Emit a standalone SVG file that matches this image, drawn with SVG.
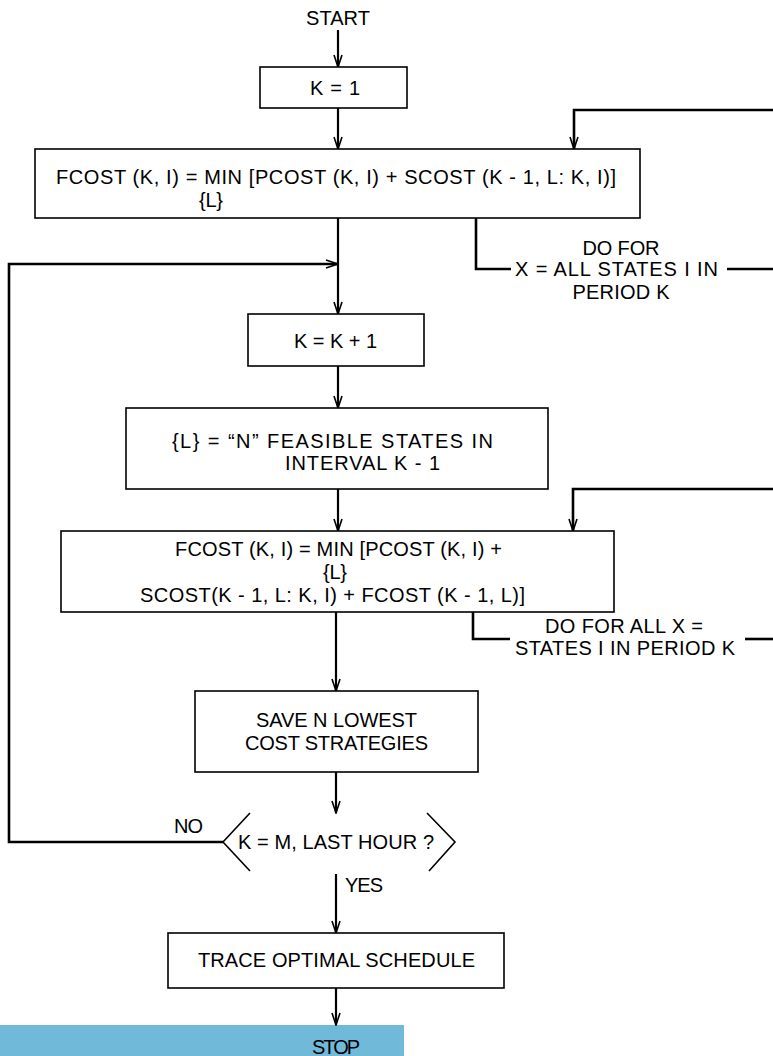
<svg xmlns="http://www.w3.org/2000/svg" width="773" height="1056" viewBox="0 0 773 1056">
<style>
.box{fill:#fff;stroke:#000;stroke-width:1.6}
.t{font-family:"Liberation Sans",Arial,sans-serif;font-size:20px;fill:#000}
.c{stroke:#000;stroke-width:2.2;fill:none}
.cl{stroke:#000;stroke-width:2.6;fill:none}
</style>
<defs>
<marker id="ah" markerWidth="14" markerHeight="10" refX="13" refY="5" orient="auto" markerUnits="userSpaceOnUse">
<path d="M1,1 L13,5 L1,9" fill="none" stroke="#000" stroke-width="1.6"/>
</marker>
</defs>
<rect x="0" y="0" width="773" height="1056" fill="#fff"/>
<rect x="0" y="1025" width="404" height="31" fill="#70b9d9"/>

<g id="connectors">
<path class="c" d="M338,30 V67" marker-end="url(#ah)"/>
<path class="c" d="M338,108 V149" marker-end="url(#ah)"/>
<path class="cl" d="M773,110 H574 V149" marker-end="url(#ah)"/>
<path class="cl" d="M476,218 V269 H511"/>
<path class="cl" d="M727,269 H773"/>
<path class="c" d="M338,218 V314" marker-end="url(#ah)"/>
<path class="cl" d="M223,842 H9 V264 H338" marker-end="url(#ah)"/>
<path class="c" d="M338,366 V408" marker-end="url(#ah)"/>
<path class="c" d="M338,489 V531" marker-end="url(#ah)"/>
<path class="cl" d="M773,489 H573 V531" marker-end="url(#ah)"/>
<path class="cl" d="M473,612 V639 H510"/>
<path class="cl" d="M745,639 H773"/>
<path class="c" d="M336,612 V691" marker-end="url(#ah)"/>
<path class="c" d="M336,772 V813" marker-end="url(#ah)"/>
<path class="c" d="M336,874 V933" marker-end="url(#ah)"/>
<path class="c" d="M336,988 V1025" marker-end="url(#ah)"/>
<text class="t" x="621" y="255" text-anchor="middle" textLength="77">DO FOR</text>
<text class="t" x="515" y="276" textLength="203">X = ALL STATES I IN</text>
<text class="t" x="621" y="299" text-anchor="middle" textLength="97">PERIOD K</text>
<text class="t" x="624" y="633" text-anchor="middle" textLength="158">DO FOR ALL X =</text>
<text class="t" x="515" y="655" textLength="220">STATES I IN PERIOD K</text>
<text class="t" x="174" y="833" textLength="29">NO</text>
<text class="t" x="345" y="892" textLength="38">YES</text>
</g>

<g id="start">
<text class="t" x="306" y="25" textLength="64">START</text>
</g>

<g id="k1">
<rect class="box" x="260" y="67" width="147" height="41"/>
<text class="t" x="310" y="95" textLength="50">K = 1</text>
</g>

<g id="fcost1">
<rect class="box" x="35" y="149" width="605" height="69"/>
<text class="t" x="56" y="184" textLength="560">FCOST (K, I) = MIN [PCOST (K, I) + SCOST (K - 1, L: K, I)]</text>
<text class="t" x="199" y="207" textLength="24">{L}</text>
</g>

<g id="kinc">
<rect class="box" x="248" y="314" width="176" height="52"/>
<text class="t" x="294" y="348" textLength="83">K = K + 1</text>
</g>

<g id="lset">
<rect class="box" x="126" y="408" width="422" height="81"/>
<text class="t" x="172" y="448" textLength="321">{L} =  “N” FEASIBLE STATES IN</text>
<text class="t" x="285" y="470" textLength="155">INTERVAL K - 1</text>
</g>

<g id="fcost2">
<rect class="box" x="61" y="531" width="553" height="81"/>
<text class="t" x="175" y="556" textLength="327">FCOST (K, I) = MIN [PCOST (K, I) +</text>
<text class="t" x="323" y="579" textLength="24">{L}</text>
<text class="t" x="140" y="602" textLength="385">SCOST(K - 1, L: K, I) + FCOST (K - 1, L)]</text>
</g>

<g id="save">
<rect class="box" x="195" y="691" width="283" height="81"/>
<text class="t" x="256" y="727" textLength="161">SAVE N LOWEST</text>
<text class="t" x="245" y="750" textLength="183">COST STRATEGIES</text>
</g>

<g id="decision">
<path d="M250,813 L223,842 L250,871 M427,813 L455,842 L429,871" fill="none" stroke="#000" stroke-width="1.6"/>
<text class="t" x="238" y="849" textLength="196">K = M, LAST HOUR ?</text>
</g>

<g id="trace">
<rect class="box" x="168" y="933" width="336" height="55"/>
<text class="t" x="198" y="967" textLength="277">TRACE OPTIMAL SCHEDULE</text>
</g>

<g id="stop">
<text class="t" x="312" y="1054" textLength="48">STOP</text>
</g>
</svg>
